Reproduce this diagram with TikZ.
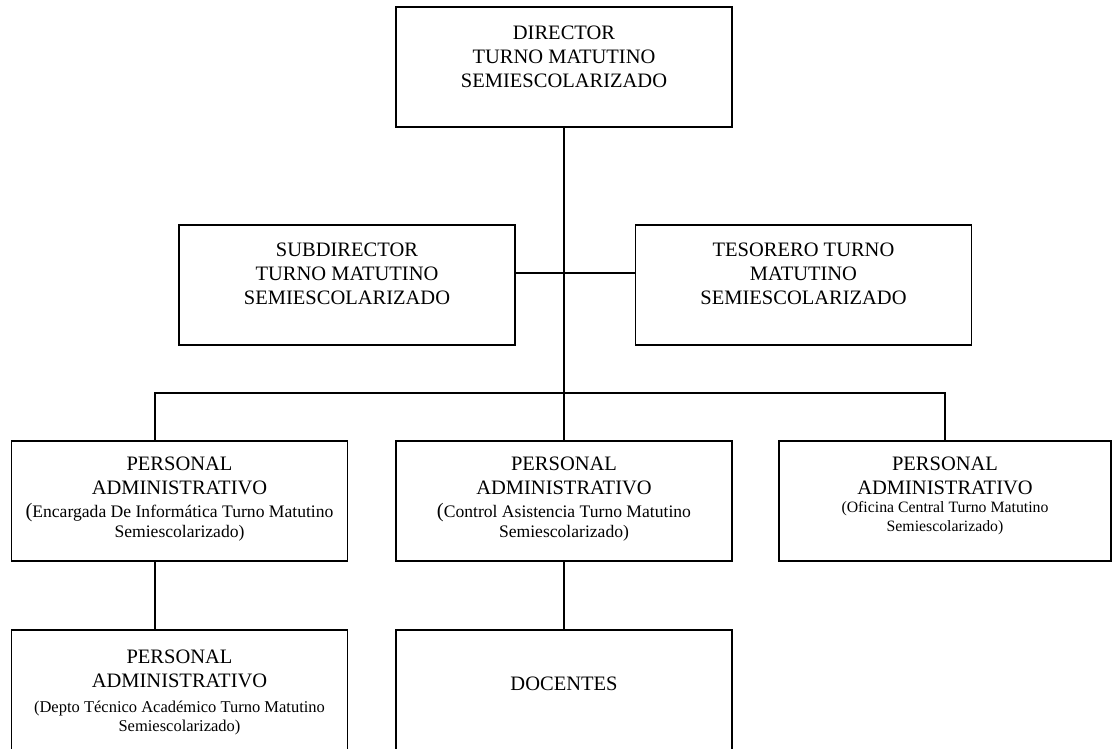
\documentclass[tikz,border=0pt]{standalone}
\usepackage{fontspec}
\setmainfont{Liberation Serif}
\newcommand{\boxfont}{\fontsize{20.5}{24}\selectfont}
\newcommand{\notefont}{\fontsize{17.6}{19.5}\selectfont}
\newcommand{\smallnotefont}{\fontsize{15.8}{18.5}\selectfont}
\newcommand{\bigparen}{{\fontsize{20.5}{19.5}\selectfont(}}
\newcommand{\topbox}[2]{\parbox[c][120pt][t]{330pt}{\centering\rule{0pt}{#1}#2}}
\tikzset{
	orgbox/.style={draw, line width=1.6pt, inner sep=0pt, minimum width=336pt, minimum height=120pt},
	conn/.style={line width=1.6pt}
}
\begin{document}
\begin{tikzpicture}[x=1pt, y=-1pt]
	\useasboundingbox (0,0) rectangle (1113,748);
	\node[orgbox] (dir) at (564,67) {\topbox{32pt}{\boxfont DIRECTOR\par TURNO MATUTINO\par SEMIESCOLARIZADO\par}};
	\node[orgbox] (sub) at (347,285) {\topbox{31pt}{\boxfont SUBDIRECTOR\par TURNO MATUTINO\par SEMIESCOLARIZADO\par}};
	\node[orgbox] (tes) at (803.5,285) {\topbox{31pt}{\boxfont TESORERO TURNO\par MATUTINO\par SEMIESCOLARIZADO\par}};
	\node[orgbox] (p1) at (179.5,501) {\topbox{29pt}{{\boxfont PERSONAL\par ADMINISTRATIVO\par}\vspace{4pt}{\notefont\bigparen Encargada De Informática Turno Matutino\par Semiescolarizado)\par}}};
	\node[orgbox] (p2) at (564,501) {\topbox{29pt}{{\boxfont PERSONAL\par ADMINISTRATIVO\par}\vspace{4pt}{\notefont\bigparen Control Asistencia Turno Matutino\par Semiescolarizado)\par}}};
	\node[orgbox, minimum width=332pt] (p3) at (945,501) {\topbox{29pt}{{\boxfont PERSONAL\par ADMINISTRATIVO\par}{\smallnotefont (Oficina Central Turno Matutino\par Semiescolarizado)\par}}};
	\node[orgbox] (p4) at (179.5,690) {\topbox{33pt}{{\fontsize{20.5}{24.5}\selectfont PERSONAL\par ADMINISTRATIVO\par}\vspace{5pt}{\fontsize{16.5}{19.5}\selectfont (Depto Técnico Académico Turno Matutino\par Semiescolarizado)\par}}};
	\node[orgbox] (doc) at (564,690) {\topbox{60pt}{\boxfont DOCENTES\par}};
	% connectors
	\coordinate (busL) at (155,393);
	\draw[conn] (dir.south) -- (p2.north);
	\draw[conn] ([yshift=12pt]sub.east) -- ([yshift=12pt]tes.west);
	\draw[conn] (p1.north -| busL) -- (busL) -- (busL -| p3.north) -- (p3.north);
	\draw[conn] (p1.south -| busL) -- (p4.north -| busL);
	\draw[conn] (p2.south) -- (doc.north);
\end{tikzpicture}
\end{document}
